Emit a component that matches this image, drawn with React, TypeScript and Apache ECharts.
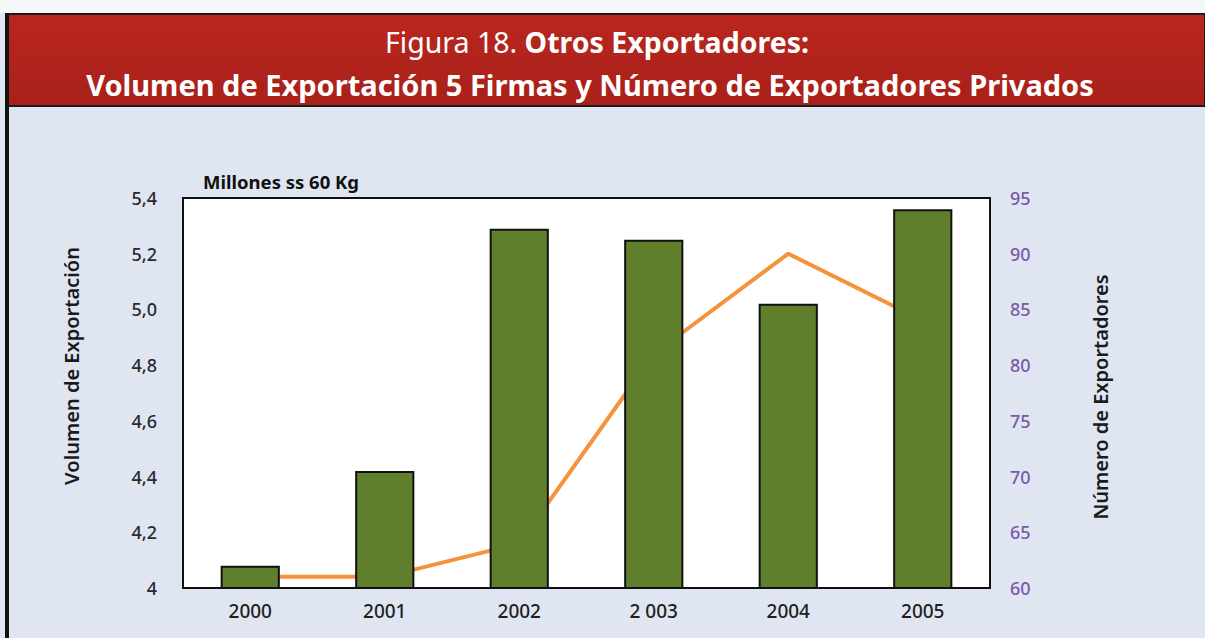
import React, { useEffect, useRef } from "react";
import * as echarts from "echarts";

const years = ["2000", "2001", "2002", "2 003", "2004", "2005"];
const volumen = [4.08, 4.42, 5.29, 5.25, 5.02, 5.36];
const exportadores = [61, 61, 64, 81, 90, 84];
const titleLine1a = "Figura 18. ";
const titleLine1b = "Otros Exportadores:";
const titleLine2 = "Volumen de Exportación 5 Firmas y Número de Exportadores Privados";
const leftAxisName = "Volumen de Exportación";
const rightAxisName = "Número de Exportadores";
const unitLabel = "Millones ss 60 Kg";

const FONT = "'Noto Sans', 'Open Sans', sans-serif";

export default function App() {
  const ref = useRef<HTMLDivElement>(null);
  useEffect(() => {
    if (!ref.current) return;
    const chart = echarts.init(ref.current, undefined, { renderer: "svg" });
    chart.setOption({
      animation: false,
      backgroundColor: "#dfe6f2",
      grid: {
        left: 183,
        right: 215,
        top: 198,
        bottom: 50,
        show: true,
        backgroundColor: "#ffffff",
        borderColor: "#111",
        borderWidth: 2,
        containLabel: false,
      },
      graphic: [
        { type: "rect", shape: { x: 0, y: 0, width: 1205, height: 13 }, style: { fill: "#f5f6f8" }, z: 0 },
        {
          type: "rect",
          shape: { x: 6, y: 14, width: 1199, height: 92 },
          style: {
            fill: new echarts.graphic.LinearGradient(0, 0, 0, 1, [
              { offset: 0, color: "#b9261f" },
              { offset: 1, color: "#a82119" },
            ]),
            stroke: "#1a1a1a",
            lineWidth: 2,
          },
          z: 1,
        },
        { type: "rect", shape: { x: 5, y: 14, width: 4, height: 624 }, style: { fill: "#111" }, z: 2 },
        {
          type: "text",
          x: 597,
          y: 42,
          style: {
            text: "{a|" + titleLine1a + "}{b|" + titleLine1b + "}",
            align: "center",
            verticalAlign: "middle",
            rich: {
              a: { fontFamily: FONT, fontSize: 28.5, lineHeight: 30, fontWeight: "normal", fill: "#ffffff" },
              b: { fontFamily: FONT, fontSize: 28.5, lineHeight: 30, fontWeight: "bold", fill: "#ffffff" },
            },
          },
          z: 3,
        },
        {
          type: "text",
          x: 590,
          y: 84,
          style: {
            text: titleLine2,
            align: "center",
            verticalAlign: "middle",
            fontFamily: FONT,
            fontSize: 29,
            lineHeight: 30,
            fontWeight: "bold",
            fill: "#ffffff",
          },
          z: 3,
        },
        {
          type: "text",
          x: 203,
          y: 181,
          style: {
            text: unitLabel,
            align: "left",
            verticalAlign: "middle",
            fontFamily: FONT,
            fontSize: 18.5,
            fontWeight: "bold",
            fill: "#111",
          },
          z: 3,
        },
        {
          type: "text",
          x: 71,
          y: 366,
          rotation: Math.PI / 2,
          style: {
            text: leftAxisName,
            align: "center",
            verticalAlign: "middle",
            fontFamily: FONT,
            fontSize: 20,
            fontWeight: 600,
            fill: "#1a1a1a",
          },
          z: 3,
        },
        {
          type: "text",
          x: 1100,
          y: 397,
          rotation: Math.PI / 2,
          style: {
            text: rightAxisName,
            align: "center",
            verticalAlign: "middle",
            fontFamily: FONT,
            fontSize: 20,
            fontWeight: 600,
            fill: "#1a1a1a",
          },
          z: 3,
        },
      ],
      xAxis: {
        type: "category",
        data: years,
        boundaryGap: true,
        axisLine: { show: false },
        axisTick: { show: false },
        axisLabel: {
          margin: 13,
          fontFamily: FONT,
          fontSize: 19,
          fontWeight: 500,
          color: "#1e1e1e",
        },
      },
      yAxis: [
        {
          type: "value",
          min: 4,
          max: 5.4,
          interval: 0.2,
          splitLine: { show: false },
          axisLine: { show: false },
          axisTick: { show: false },
          axisLabel: {
            margin: 26,
            fontFamily: FONT,
            fontSize: 18,
            fontWeight: 500,
            color: "#2a2a2a",
            formatter: (v: number) =>
              Math.abs(v - 4) < 1e-9 ? "4" : v.toFixed(1).replace(".", ","),
          },
        },
        {
          type: "value",
          min: 60,
          max: 95,
          interval: 5,
          position: "right",
          splitLine: { show: false },
          axisLine: { show: false },
          axisTick: { show: false },
          axisLabel: {
            margin: 20,
            fontFamily: FONT,
            fontSize: 18,
            fontWeight: 500,
            color: "#7a5aa8",
          },
        },
      ],
      series: [
        {
          type: "line",
          name: rightAxisName,
          yAxisIndex: 1,
          data: exportadores,
          symbol: "none",
          lineStyle: { color: "#f5923c", width: 4 },
          z: 2,
        },
        {
          type: "bar",
          name: leftAxisName,
          yAxisIndex: 0,
          data: volumen,
          barWidth: "44%",
          itemStyle: { color: "#5f7f2d", borderColor: "#111", borderWidth: 2 },
          z: 3,
        },
      ],
    });
    return () => chart.dispose();
  }, []);
  return (
    <div
      ref={ref}
      style={{ position: "absolute", left: 0, top: 0, width: 1205, height: 638 }}
    />
  );
}
